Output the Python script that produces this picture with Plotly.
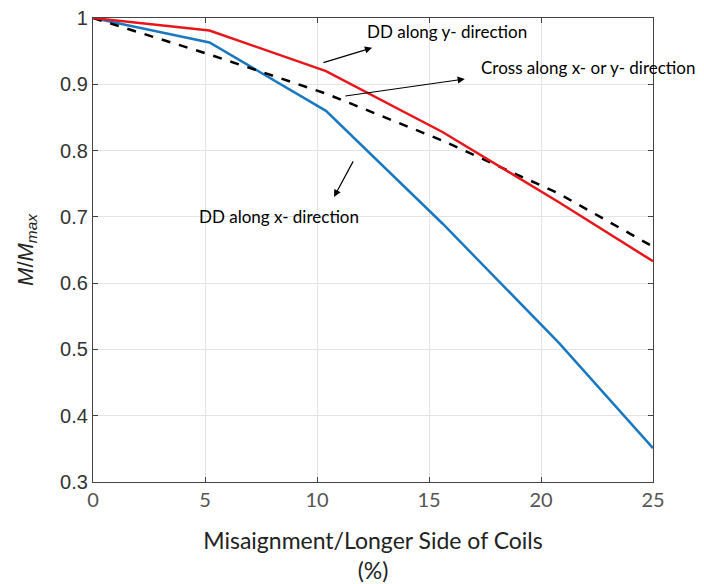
import plotly.graph_objects as go

x_vals = [0, 5.2, 10.4, 15.6, 20.8, 25]
dd_y = [1.0, 0.981, 0.920, 0.828, 0.722, 0.633]
dd_x = [1.0, 0.963, 0.860, 0.690, 0.510, 0.351]
cross = [1.0, 0.945, 0.886, 0.815, 0.735, 0.655]

x_ticks = [0, 5, 10, 15, 20, 25]
y_ticks = [0.3, 0.4, 0.5, 0.6, 0.7, 0.8, 0.9, 1.0]
y_tick_text = ["0.3", "0.4", "0.5", "0.6", "0.7", "0.8", "0.9", "1"]

fig = go.Figure()
fig.add_trace(go.Scatter(x=x_vals, y=dd_x, mode="lines",
                         line=dict(color="#1a78c2", width=2.5), name="DD along x- direction"))
fig.add_trace(go.Scatter(x=x_vals, y=cross, mode="lines",
                         line=dict(color="black", width=2.5, dash="dash"), name="Cross along x- or y- direction"))
fig.add_trace(go.Scatter(x=x_vals, y=dd_y, mode="lines",
                         line=dict(color="#e8161b", width=2.5), name="DD along y- direction"))

afont = dict(family="Lato, sans-serif", size=17, color="black")
# arrows (tail -> head)
arrows = [
    ((10.22, 0.932), (12.46, 0.955)),
    ((11.2, 0.882), (16.6, 0.908)),
    ((11.65, 0.786), (10.76, 0.730)),
]
for (tx, ty), (hx, hy) in arrows:
    fig.add_annotation(x=hx, y=hy, ax=tx, ay=ty, xref="x", yref="y", axref="x", ayref="y",
                       text="", showarrow=True, arrowhead=2, arrowsize=1.2, arrowwidth=1.2,
                       arrowcolor="black")
labels = [
    ("DD along y- direction", 15.8, 0.980),
    ("Cross along x- or y- direction", 22.1, 0.925),
    ("DD along x- direction", 8.3, 0.700),
]
for t, lx, ly in labels:
    fig.add_annotation(x=lx, y=ly, xref="x", yref="y", text=t, showarrow=False, font=afont)

fig.update_layout(
    width=704, height=584,
    margin=dict(l=93, r=51, t=18, b=102),
    paper_bgcolor="white", plot_bgcolor="white",
    showlegend=False,
    xaxis=dict(range=[0, 25], tickvals=x_ticks, showgrid=True, gridcolor="#e3e3e3", gridwidth=1,
               zeroline=False, showline=True, linecolor="#444", linewidth=1.2, mirror="ticks",
               ticks="inside", ticklen=5, tickcolor="#444", automargin=False,
               tickfont=dict(family="Lato, sans-serif", size=20, color="#555"),
               title=dict(text="Misaignment/Longer Side of Coils<br>(%)", standoff=25,
                          font=dict(family="Lato, sans-serif", size=23, color="#222"))),
    yaxis=dict(range=[0.3, 1.0], tickvals=y_ticks, ticktext=y_tick_text, showgrid=True,
               gridcolor="#e3e3e3", gridwidth=1, zeroline=False, showline=True, linecolor="#444",
               linewidth=1.2, mirror="ticks", ticks="inside", ticklen=5, tickcolor="#444",
               automargin=False,
               tickfont=dict(family="Liberation Sans, Arial, sans-serif", size=20, color="#333"),
               title=dict(text="<i>M</i>/<i>M</i><sub><i>max</i></sub>", standoff=20,
                          font=dict(family="Liberation Sans, Arial, sans-serif", size=22, color="#222"))),
)

fig.write_html("out.html")
